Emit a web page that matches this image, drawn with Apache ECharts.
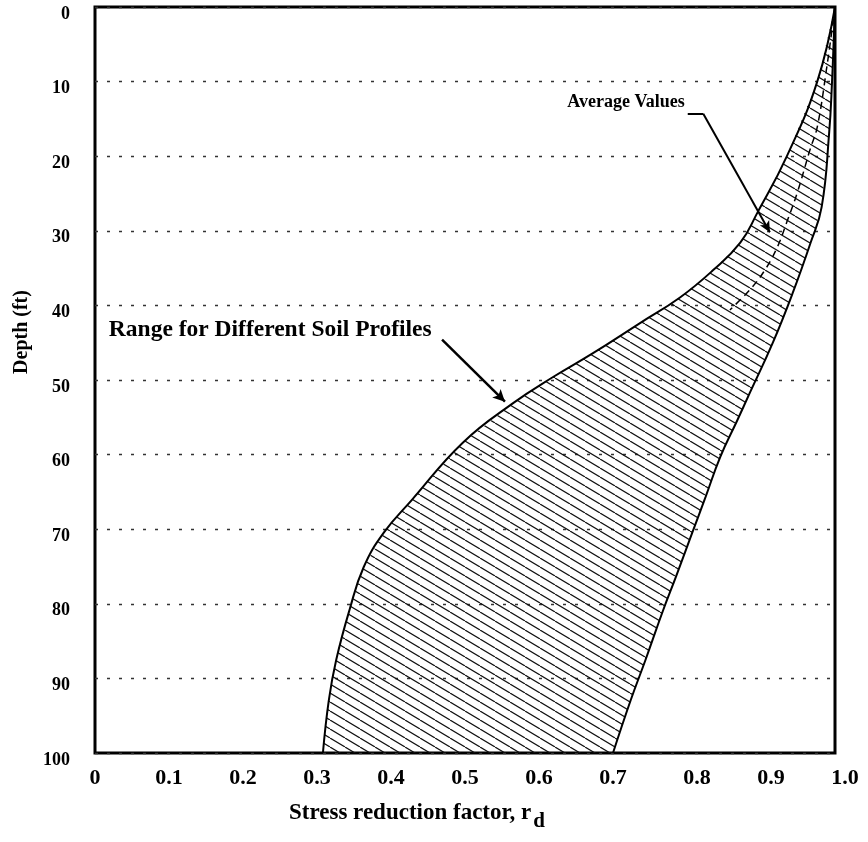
<!DOCTYPE html>
<html>
<head>
<meta charset="utf-8">
<title>Stress reduction factor vs depth</title>
<script src="https://cdn.jsdelivr.net/npm/echarts@6/dist/echarts.min.js"></script>
<style>
  html, body { margin: 0; padding: 0; background: #fff; }
  #chart { width: 868px; height: 842px; }
</style>
</head>
<body>
<div id="chart"></div>
<script>
// lower bound of the band (left curve), depth in ft / r_d
const depthLow = [0, 10, 20, 27.6, 31.6, 35.3, 38.9, 42.4, 46.4, 49.6, 53.1, 58.4, 66.1, 70.5, 75.1, 80.8, 87.5, 92.9, 100];
const rdLow = [1.0, 0.976, 0.935, 0.895, 0.872, 0.835, 0.791, 0.736, 0.673, 0.619, 0.565, 0.497, 0.428, 0.390, 0.363, 0.344, 0.326, 0.316, 0.308];

// upper bound of the band (right curve)
const depthUp = [0, 10, 17, 26.8, 31.6, 38.3, 45, 51.7, 55.4, 60.3, 65.7, 70.5, 76.4, 80.8, 87.5, 92.9, 100];
const rdUp = [1.0, 0.996, 0.992, 0.982, 0.967, 0.943, 0.916, 0.885, 0.868, 0.845, 0.825, 0.807, 0.785, 0.768, 0.744, 0.724, 0.700];

// average values (dashed)
const depthAvg = [0, 8, 16.1, 19.2, 24.9, 28.8, 32.2, 35.3, 37.9, 40.6];
const rdAvg = [1.0, 0.989, 0.976, 0.966, 0.949, 0.935, 0.922, 0.905, 0.885, 0.858];

// axis ticks
const xTicks = [0, 0.1, 0.2, 0.3, 0.4, 0.5, 0.6, 0.7, 0.8, 0.9, 1.0];
const yTicks = [0, 10, 20, 30, 40, 50, 60, 70, 80, 90, 100];

const serif = '"Liberation Serif", "Times New Roman", serif';

function pairs (rs, ds) {
  return rs.map((r, i) => [r, ds[i]])
}

// diagonal hatch tile (lines running down to the right)
function hatchTile () {
  const w = 15;
  const h = 9;
  const c = document.createElement('canvas');
  c.width = w;
  c.height = h;
  const g = c.getContext('2d');
  g.strokeStyle = '#111';
  g.lineWidth = 1.2;
  g.beginPath();
  [-w, 0, w].forEach(dx => {
    g.moveTo(dx, 0);
    g.lineTo(dx + w, h);
  });
  g.stroke();
  return c;
}

const lowPts = pairs(rdLow, depthLow);
const upPts = pairs(rdUp, depthUp);
const bandPts = lowPts.concat(upPts.slice().reverse());
const hatch = { image: hatchTile(), repeat: 'repeat' };

const noteLabel = size => ({
  show: true,
  position: 'left',
  distance: 0,
  color: '#000',
  fontFamily: serif,
  fontWeight: 'bold',
  fontSize: size,
  formatter: p => p.name
});

const chart = echarts.init(document.getElementById('chart'));

chart.setOption({
  animation: false,
  grid: {
    left: 95,
    top: 7,
    width: 740,
    height: 746,
    show: true,
    borderColor: '#000',
    borderWidth: 3
  },
  xAxis: {
    type: 'value',
    min: 0,
    max: 1,
    interval: 0.1,
    axisLine: { show: false },
    axisTick: { show: false },
    splitLine: { show: false },
    axisLabel: {
      margin: 14,
      color: '#000',
      fontFamily: serif,
      fontWeight: 'bold',
      fontSize: 22,
      formatter: v => {
        const t = v === 0 ? '0' : v.toFixed(1);
        // the last three labels sit a little to the right in the original
        return v > 0.75 ? '{r|' + t + '}' : t;
      },
      rich: {
        r: { padding: [0, 0, 0, 20], color: '#000', fontFamily: serif, fontWeight: 'bold', fontSize: 22 }
      }
    },
    name: 'Stress reduction factor, r{sub|d}',
    nameLocation: 'middle',
    nameGap: 42,
    nameTextStyle: {
      color: '#000',
      fontFamily: serif,
      fontWeight: 'bold',
      fontSize: 23,
      padding: [0, 96, 0, 0],
      rich: {
        sub: { color: '#000', fontFamily: serif, fontWeight: 'bold', fontSize: 21, padding: [16, 0, 0, 2] }
      }
    }
  },
  yAxis: {
    type: 'value',
    inverse: true,
    min: 0,
    max: 100,
    interval: 10,
    axisLine: { show: false },
    axisTick: { show: false },
    axisLabel: {
      margin: 25,
      color: '#000',
      fontFamily: serif,
      fontWeight: 'bold',
      fontSize: 18,
      verticalAlign: 'top',
      lineHeight: 14,
      formatter: v => (yTicks.indexOf(v) >= 0 ? String(v) : '')
    },
    splitLine: {
      show: true,
      lineStyle: { color: '#333', width: 1.3, type: [3, 9] }
    },
    name: 'Depth (ft)',
    nameLocation: 'middle',
    nameRotate: 90,
    nameGap: 60,
    nameTextStyle: {
      color: '#000',
      fontFamily: serif,
      fontWeight: 'bold',
      fontSize: 20,
      padding: [0, 0, 0, 96]
    }
  },
  series: [
    {
      // hatched band between the two bounds
      type: 'custom',
      silent: true,
      data: [0],
      renderItem: (params, api) => ({
        type: 'polygon',
        shape: { points: bandPts.map(p => api.coord(p)) },
        style: { fill: hatch, stroke: null }
      }),
      z: 1
    },
    {
      name: 'lower',
      type: 'line',
      data: lowPts,
      smooth: 0.45,
      showSymbol: false,
      silent: true,
      lineStyle: { color: '#000', width: 2 },
      z: 3,
      markPoint: {
        symbol: 'circle',
        symbolSize: 0,
        silent: true,
        label: noteLabel(23.5),
        data: [{ name: 'Range for Different Soil Profiles', coord: [0.455, 43.3] }]
      },
      markLine: {
        silent: true,
        symbol: ['none', 'arrow'],
        symbolSize: [9, 12],
        label: { show: false },
        lineStyle: { color: '#000', width: 2.5, type: 'solid' },
        data: [[{ coord: [0.469, 44.6] }, { coord: [0.554, 52.9] }]]
      }
    },
    {
      name: 'upper',
      type: 'line',
      data: upPts,
      smooth: 0.45,
      showSymbol: false,
      silent: true,
      lineStyle: { color: '#000', width: 2 },
      z: 3
    },
    {
      name: 'average',
      type: 'line',
      data: pairs(rdAvg, depthAvg),
      smooth: 0.4,
      showSymbol: false,
      silent: true,
      lineStyle: { color: '#000', width: 1.5, type: [7, 5] },
      z: 3,
      markPoint: {
        symbol: 'circle',
        symbolSize: 0,
        silent: true,
        label: noteLabel(18),
        data: [{ name: 'Average Values', coord: [0.797, 12.8] }]
      },
      markLine: {
        silent: true,
        label: { show: false },
        symbolSize: [8, 11],
        lineStyle: { color: '#000', width: 2, type: 'solid' },
        data: [
          [{ coord: [0.801, 14.3], symbol: 'none' }, { coord: [0.822, 14.3], symbol: 'none' }],
          [{ coord: [0.822, 14.3], symbol: 'none' }, { coord: [0.912, 30.2], symbol: 'arrow' }]
        ]
      }
    }
  ]
});
</script>
</body>
</html>
